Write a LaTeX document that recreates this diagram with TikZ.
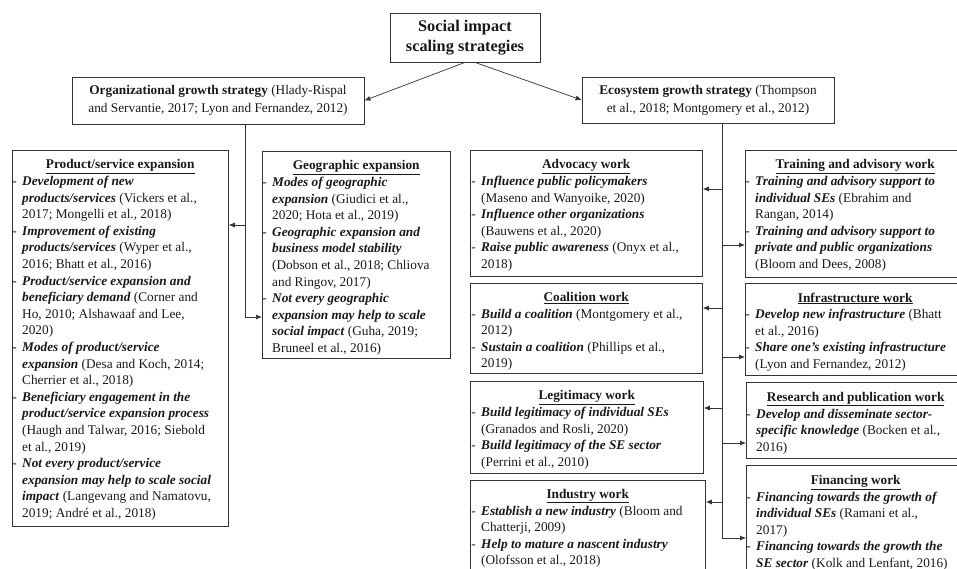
\documentclass[tikz,border=0pt]{standalone}
\usepackage{fontspec}
\setmainfont{Liberation Serif}
\usetikzlibrary{arrows.meta}
\newcommand\bix[1]{\textbf{\textit{#1}}}
\newcommand\dsh{\llap{-\hspace{5.5bp}}}
\newcommand\hdr[2]{\makebox[#1]{\underline{\textbf{#2}}}}
\begin{document}
\begin{tikzpicture}[x=1bp,y=-1bp,
  boxst/.style={draw=black!80,line width=0.8bp,inner sep=0pt,anchor=north west},
  txt/.style={anchor=north west,inner sep=0pt,align=left,font=\fontsize{13.3bp}{16.6bp}\selectfont,text=black!90},
  topbox/.style={draw=black!80,line width=0.8bp,inner sep=0pt,align=center,text=black!90},
  arr/.style={draw=black!80,line width=0.7bp,-{Latex[length=6bp,width=5bp]}}]
\useasboundingbox (0,0) rectangle (957,569);
\clip (0,0) rectangle (957,569);

% top level
\node[topbox,minimum width=150bp,minimum height=49bp,font=\fontsize{16.3bp}{20bp}\selectfont\bfseries] (title) at (465,37.5) {Social impact\\scaling strategies};
\node[topbox,minimum width=292bp,minimum height=47bp,font=\fontsize{13.3bp}{18bp}\selectfont] (org) at (218,100.5) {\textbf{Organizational growth strategy} (Hlady-Rispal\\and Servantie, 2017; Lyon and Fernandez, 2012)};
\node[topbox,minimum width=252bp,minimum height=46bp,font=\fontsize{13.3bp}{18bp}\selectfont] (eco) at (708,100) {\textbf{Ecosystem growth strategy} (Thompson\\et al., 2018; Montgomery et al., 2012)};

\draw[arr] (title.south) -- (org.east);
\draw[arr] ([xshift=10bp]title.south) -- (eco.west);

% boxes
\node[boxst,minimum width=216bp,minimum height=376bp] (prod) at (12,150) {};
\node[boxst,minimum width=188bp,minimum height=207bp] (geo) at (262,151) {};
\node[boxst,minimum width=232bp,minimum height=126bp] (adv) at (470,150) {};
\node[boxst,minimum width=232bp,minimum height=90bp] (coal) at (470,283) {};
\node[boxst,minimum width=233bp,minimum height=92bp] (leg) at (470,381) {};
\node[boxst,minimum width=235bp,minimum height=110bp] (ind) at (470,480) {};
\node[boxst,minimum width=220bp,minimum height=127bp] (train) at (745,150) {};
\node[boxst,minimum width=220bp,minimum height=92bp] (infra) at (745,283) {};
\node[boxst,minimum width=219bp,minimum height=76bp] (res) at (746,382) {};
\node[boxst,minimum width=219bp,minimum height=120bp] (fin) at (746,465) {};

% texts
\node[txt] (prodT) at ([shift={(10bp,-9.5bp)}]prod.north west) {\hdr{196bp}{Product/service expansion}\\
\dsh\bix{Development of new}\\
\bix{products/services} (Vickers et al.,\\
2017; Mongelli et al., 2018)\\
\dsh\bix{Improvement of existing}\\
\bix{products/services} (Wyper et al.,\\
2016; Bhatt et al., 2016)\\
\dsh\bix{Product/service expansion and}\\
\bix{beneficiary demand} (Corner and\\
Ho, 2010; Alshawaaf and Lee,\\
2020)\\
\dsh\bix{Modes of product/service}\\
\bix{expansion} (Desa and Koch, 2014;\\
Cherrier et al., 2018)\\
\dsh\bix{Beneficiary engagement in the}\\
\bix{product/service expansion process}\\
(Haugh and Talwar, 2016; Siebold\\
et al., 2019)\\
\dsh\bix{Not every product/service}\\
\bix{expansion may help to scale social}\\
\bix{impact} (Langevang and Namatovu,\\
2019; André et al., 2018)};

\node[txt] (geoT) at ([shift={(10bp,-9.5bp)}]geo.north west) {\hdr{168bp}{Geographic expansion}\\
\dsh\bix{Modes of geographic}\\
\bix{expansion} (Giudici et al.,\\
2020; Hota et al., 2019)\\
\dsh\bix{Geographic expansion and}\\
\bix{business model stability}\\
(Dobson et al., 2018; Chliova\\
and Ringov, 2017)\\
\dsh\bix{Not every geographic}\\
\bix{expansion may help to scale}\\
\bix{social impact} (Guha, 2019;\\
Bruneel et al., 2016)};

\node[txt] (advT) at ([shift={(11bp,-9.5bp)}]adv.north west) {\hdr{210bp}{Advocacy work}\\
\dsh\bix{Influence public policymakers}\\
(Maseno and Wanyoike, 2020)\\
\dsh\bix{Influence other organizations}\\
(Bauwens et al., 2020)\\
\dsh\bix{Raise public awareness} (Onyx et al.,\\
2018)};

\node[txt] (coalT) at ([shift={(11bp,-9bp)}]coal.north west) {\hdr{210bp}{Coalition work}\\
\dsh\bix{Build a coalition} (Montgomery et al.,\\
2012)\\
\dsh\bix{Sustain a coalition} (Phillips et al.,\\
2019)};

\node[txt] (legT) at ([shift={(11bp,-9.5bp)}]leg.north west) {\hdr{211bp}{Legitimacy work}\\
\dsh\bix{Build legitimacy of individual SEs}\\
(Granados and Rosli, 2020)\\
\dsh\bix{Build legitimacy of the SE sector}\\
(Perrini et al., 2010)};

\node[txt] (indT) at ([shift={(11bp,-9bp)}]ind.north west) {\hdr{213bp}{Industry work}\\
\dsh\bix{Establish a new industry} (Bloom and\\
Chatterji, 2009)\\
\dsh\bix{Help to mature a nascent industry}\\
(Olofsson et al., 2018)};

\node[txt] (trainT) at ([shift={(10bp,-9.5bp)}]train.north west) {\hdr{200bp}{Training and advisory work}\\
\dsh\bix{Training and advisory support to}\\
\bix{individual SEs} (Ebrahim and\\
Rangan, 2014)\\
\dsh\bix{Training and advisory support to}\\
\bix{private and public organizations}\\
(Bloom and Dees, 2008)};

\node[txt] (infraT) at ([shift={(10bp,-9.5bp)}]infra.north west) {\hdr{200bp}{Infrastructure work}\\
\dsh\bix{Develop new infrastructure} (Bhatt\\
et al., 2016)\\
\dsh\bix{Share one’s existing infrastructure}\\
(Lyon and Fernandez, 2012)};

\node[txt] (resT) at ([shift={(10bp,-10bp)}]res.north west) {\hdr{199bp}{Research and publication work}\\
\dsh\bix{Develop and disseminate sector-}\\
\bix{specific knowledge} (Bocken et al.,\\
2016)};

\node[txt] (finT) at ([shift={(10bp,-10bp)}]fin.north west) {\hdr{199bp}{Financing work}\\
\dsh\bix{Financing towards the growth of}\\
\bix{individual SEs} (Ramani et al.,\\
2017)\\
\dsh\bix{Financing towards the growth the}\\
\bix{SE sector} (Kolk and Lenfant, 2016)};

% organizational tree
\coordinate (oa) at (245,225);
\coordinate (ob) at (245,317);
\draw[arr] (org.south -| ob) -- (ob) -- (geo.west |- ob);
\draw[arr] (oa) -- (prod.east |- oa);

% ecosystem tree
\coordinate (e1) at (722,189);
\coordinate (e2) at (722,245);
\coordinate (e3) at (722,308);
\coordinate (e4) at (722,357);
\coordinate (e5) at (722,408);
\coordinate (e6) at (722,443);
\coordinate (e7) at (722,502);
\coordinate (e8) at (722,538);
\draw[arr] (eco.south -| e8) -- (e8) -- (fin.west |- e8);
\draw[arr] (e1) -- (adv.east |- e1);
\draw[arr] (e2) -- (train.west |- e2);
\draw[arr] (e3) -- (coal.east |- e3);
\draw[arr] (e4) -- (infra.west |- e4);
\draw[arr] (e5) -- (leg.east |- e5);
\draw[arr] (e6) -- (res.west |- e6);
\draw[arr] (e7) -- (ind.east |- e7);
\end{tikzpicture}
\end{document}
